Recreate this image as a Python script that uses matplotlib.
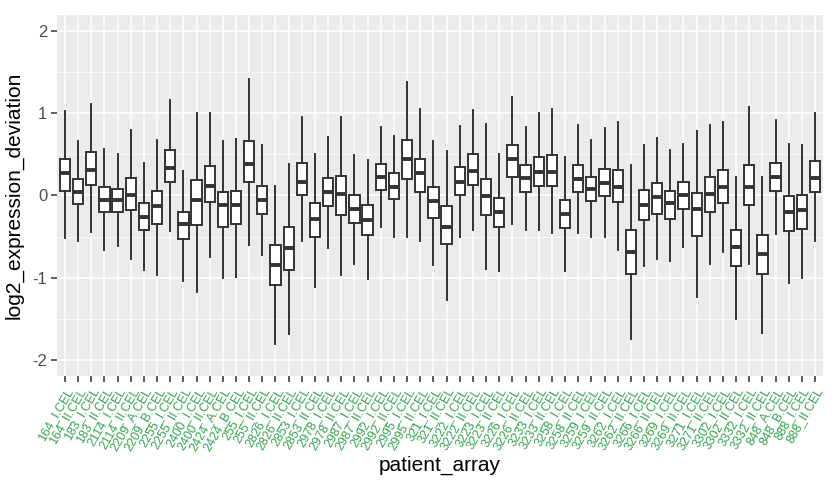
import matplotlib.pyplot as plt
import numpy as np

plt.rcParams['font.family'] = ['Liberation Sans', 'DejaVu Sans']

patients = ['164_I', '164_II', '183_I', '183_II', '2114_I', '2114_II', '2209_A', '2209_B',
            '2255_I', '2255_II', '2400_I', '2400_II', '2424_A', '2424_B', '255_I', '255_II',
            '2826_I', '2826_II', '2853_I', '2853_II', '2978_I', '2978_II', '2987_I', '2987_II',
            '2992_I', '2992_II', '2995_I', '2995_II', '321_I', '321_II', '3222_I', '3222_II',
            '3223_I', '3223_II', '3226_I', '3226_II', '3233_I', '3233_II', '3258_I', '3258_II',
            '3259_I', '3259_II', '3262_I', '3262_II', '3266_I', '3266_II', '3269_I', '3269_II',
            '3271_I', '3271_II', '3302_I', '3302_II', '3332_I', '3332_II', '848_A', '848_B',
            '888_I', '888_II']
labels = [p + '.CEL' for p in patients]

# box statistics
whislo = [-0.52, -0.55, -0.45, -0.67, -0.62, -0.77, -0.91, -0.97, -0.43, -1.04,
          -1.18, -0.75, -1.01, -0.99, -0.60, -0.72, -1.81, -1.69, -0.56, -1.11,
          -0.64, -0.97, -0.83, -1.02, -0.38, -0.51, -0.50, -0.56, -0.85, -1.27,
          -0.50, -0.42, -0.90, -0.92, -0.35, -0.42, -0.42, -0.46, -0.92, -0.46,
          -0.51, -0.51, -0.66, -1.75, -0.86, -0.78, -0.80, -0.63, -1.24, -0.83,
          -0.69, -1.51, -0.83, -1.67, -0.47, -1.07, -1.01, -0.55]
q1 = [0.06, -0.10, 0.13, -0.20, -0.20, -0.18, -0.42, -0.35, 0.16, -0.53,
      -0.36, -0.08, -0.39, -0.35, 0.16, -0.22, -1.09, -0.91, 0.00, -0.50,
      -0.13, -0.24, -0.33, -0.48, 0.07, -0.04, 0.20, 0.04, -0.28, -0.59,
      0.01, 0.13, -0.24, -0.39, 0.23, 0.04, 0.11, 0.11, -0.40, 0.04,
      -0.07, -0.01, -0.08, -0.96, -0.30, -0.22, -0.29, -0.16, -0.49, -0.20,
      -0.09, -0.86, -0.11, -0.96, 0.05, -0.43, -0.41, 0.04]
med = [0.27, 0.04, 0.31, -0.05, -0.05, 0.01, -0.26, -0.13, 0.34, -0.35,
       -0.05, 0.12, -0.12, -0.11, 0.38, -0.05, -0.85, -0.64, 0.17, -0.29,
       0.04, 0.02, -0.16, -0.30, 0.23, 0.10, 0.45, 0.27, -0.07, -0.39,
       0.16, 0.30, -0.01, -0.20, 0.44, 0.21, 0.29, 0.29, -0.22, 0.20,
       0.08, 0.15, 0.10, -0.69, -0.11, -0.02, -0.09, 0.01, -0.17, 0.02,
       0.10, -0.63, 0.10, -0.71, 0.22, -0.20, -0.18, 0.21]
q3 = [0.45, 0.20, 0.53, 0.10, 0.08, 0.21, -0.09, 0.06, 0.56, -0.20,
      0.19, 0.36, 0.04, 0.06, 0.67, 0.12, -0.60, -0.39, 0.39, -0.09,
      0.21, 0.24, 0.00, -0.11, 0.38, 0.27, 0.68, 0.44, 0.10, -0.13,
      0.35, 0.50, 0.20, -0.03, 0.62, 0.37, 0.47, 0.49, -0.05, 0.37,
      0.23, 0.32, 0.31, -0.42, 0.07, 0.15, 0.06, 0.16, 0.03, 0.22,
      0.31, -0.42, 0.37, -0.48, 0.40, -0.01, 0.00, 0.42]
whishi = [1.03, 0.66, 1.12, 0.57, 0.50, 0.80, 0.39, 0.68, 1.16, 0.30,
          1.01, 1.00, 0.66, 0.69, 1.42, 0.62, 0.12, 0.38, 0.96, 0.51,
          0.71, 0.96, 0.49, 0.43, 0.83, 0.73, 1.38, 1.05, 0.67, 0.54,
          0.85, 1.04, 0.87, 0.50, 1.20, 0.84, 1.00, 1.06, 0.47, 0.86,
          0.68, 0.82, 0.89, 0.37, 0.62, 0.70, 0.56, 0.63, 0.79, 0.86,
          0.90, 0.23, 1.08, 0.22, 0.92, 0.63, 0.61, 1.01]

stats = []
for i, lab in enumerate(labels):
    stats.append({'label': lab, 'whislo': whislo[i], 'q1': q1[i], 'med': med[i],
                  'q3': q3[i], 'whishi': whishi[i], 'fliers': []})

fig = plt.figure(figsize=(8.35, 4.93), dpi=100)
ax = fig.add_axes([0.0683, 0.2373, 0.9173, 0.7323])
ax.set_facecolor('#EBEBEB')

pos = np.arange(1, len(labels) + 1)
edge = '#333333'
ax.bxp(stats, positions=pos, widths=0.78, patch_artist=True, showcaps=False,
       boxprops=dict(facecolor='white', edgecolor=edge, linewidth=1.4),
       whiskerprops=dict(color=edge, linewidth=1.4),
       medianprops=dict(color=edge, linewidth=2.8, solid_capstyle='butt'),
       zorder=3)

ax.set_xlim(0.4, len(labels) + 0.6)
ax.set_ylim(-2.2, 2.2)
ax.set_yticks([-2, -1, 0, 1, 2])
ax.set_yticklabels(['-2', '-1', '0', '1', '2'])
ax.set_yticks([-1.5, -0.5, 0.5, 1.5], minor=True)
ax.set_xticks(pos)
ax.set_xticklabels(labels, rotation=60, ha='right', rotation_mode='anchor',
                   color='#33A450', fontsize=9)

ax.grid(True, which='major', color='white', linewidth=1.1, zorder=0)
ax.grid(True, which='minor', axis='y', color='white', linewidth=0.5, zorder=0)
ax.set_axisbelow(True)
for s in ax.spines.values():
    s.set_visible(False)
ax.tick_params(axis='both', which='major', length=4, width=1.1, color='#333333')
ax.tick_params(axis='y', which='major', labelsize=12, labelcolor='#4D4D4D', pad=3)
ax.tick_params(axis='x', which='major', pad=3)
ax.tick_params(which='minor', length=0)

ax.set_xlabel('patient_array', fontsize=15, labelpad=2)
ax.set_ylabel('log2_expression_deviation', fontsize=15, labelpad=6)

fig.savefig('out.png', dpi=100)
